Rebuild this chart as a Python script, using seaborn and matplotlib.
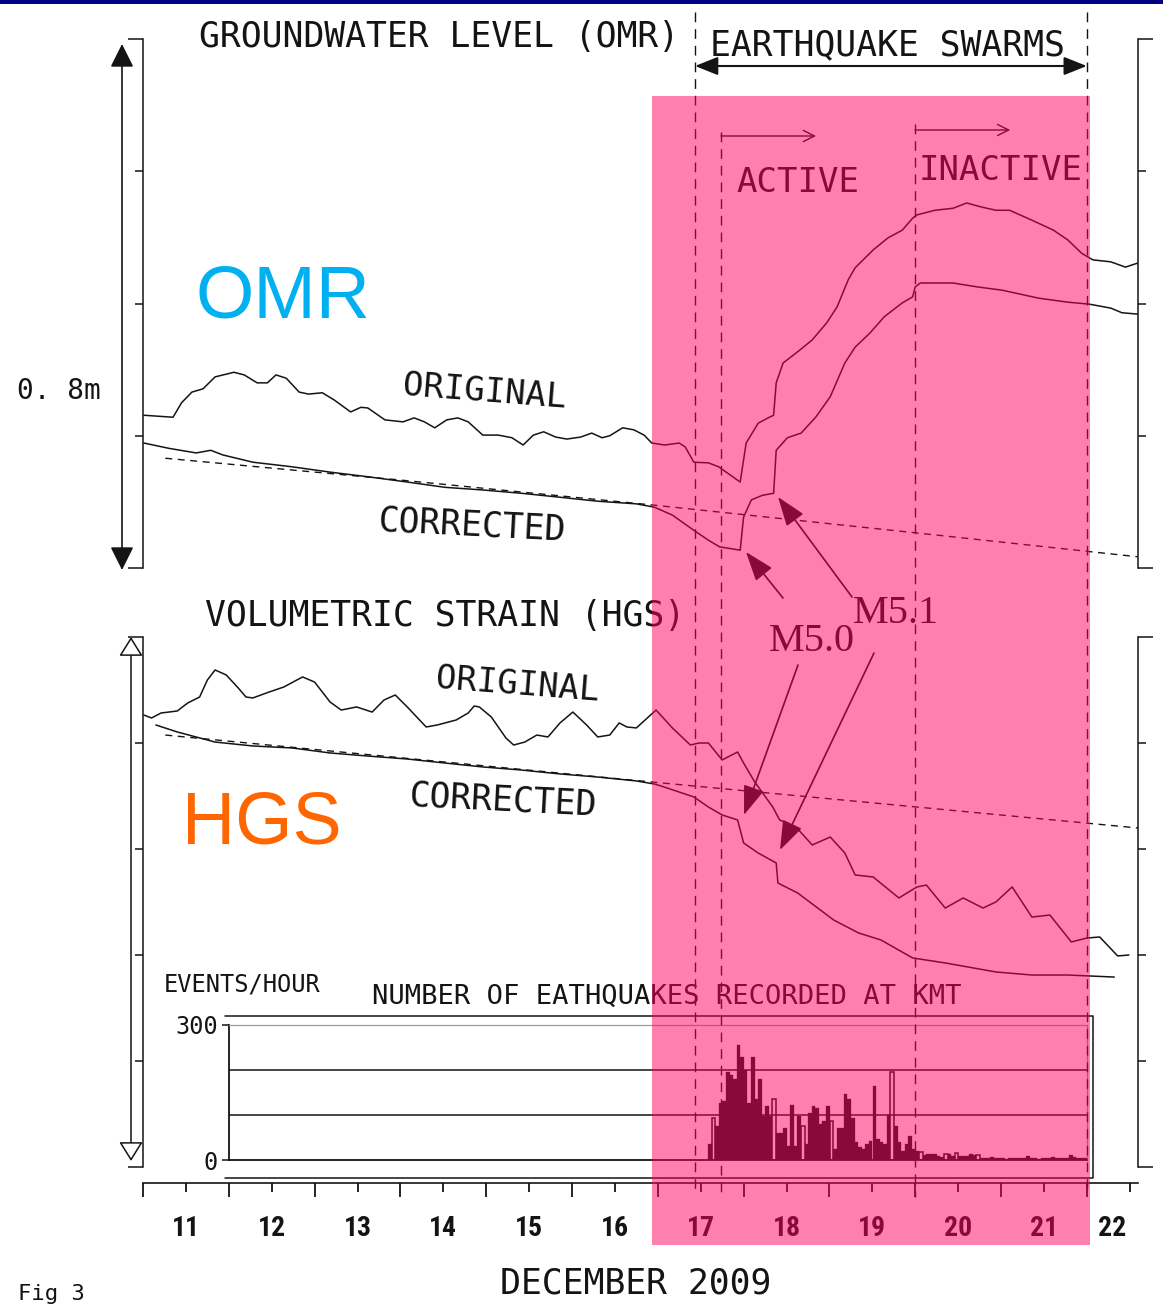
import numpy as np
import pandas as pd
import matplotlib
matplotlib.use("Agg")
import matplotlib.pyplot as plt
from matplotlib.patches import Rectangle
import seaborn as sns

# ---------------- data ----------------
# Groundwater level at OMR, metres (relative), time = day of December 2009
omr_orig_day = [11.01, 11.35, 11.45, 11.57, 11.70, 11.84, 12.06, 12.18, 12.33, 12.45,
                12.55, 12.67, 12.82, 12.93, 13.09, 13.23, 13.42, 13.54, 13.62, 13.82,
                14.03, 14.16, 14.28, 14.40, 14.54, 14.67, 14.79, 14.96, 15.14, 15.30,
                15.43, 15.55, 15.67, 15.81, 15.94, 16.10, 16.23, 16.35, 16.44, 16.59,
                16.72, 16.84, 16.93, 17.08, 17.25, 17.32, 17.42, 17.59, 17.71, 17.96,
                18.03, 18.17, 18.30, 18.35, 18.38, 18.46, 18.63, 18.80, 18.97, 19.09,
                19.22, 19.30, 19.51, 19.68, 19.85, 19.97, 20.02, 20.23, 20.44, 20.60,
                20.77, 20.94, 21.10, 21.36, 21.61, 21.78, 21.94, 22.07, 22.28, 22.45,
                22.59]
omr_orig_m = [0.231, 0.228, 0.250, 0.266, 0.271, 0.289, 0.296, 0.292, 0.280, 0.280,
              0.292, 0.287, 0.266, 0.263, 0.265, 0.254, 0.236, 0.243, 0.242, 0.224,
              0.221, 0.227, 0.221, 0.212, 0.224, 0.227, 0.221, 0.201, 0.201, 0.197,
              0.186, 0.201, 0.206, 0.198, 0.195, 0.198, 0.204, 0.197, 0.200, 0.212,
              0.209, 0.201, 0.189, 0.186, 0.189, 0.183, 0.160, 0.159, 0.153, 0.130,
              0.189, 0.219, 0.228, 0.231, 0.280, 0.310, 0.327, 0.345, 0.371, 0.395,
              0.436, 0.454, 0.481, 0.499, 0.511, 0.529, 0.534, 0.541, 0.544, 0.552,
              0.546, 0.541, 0.541, 0.526, 0.511, 0.496, 0.476, 0.466, 0.463, 0.455,
              0.461]
omr_corr_day = [11.01, 11.30, 11.62, 11.79, 11.93, 12.28, 12.74, 13.18, 13.62, 14.08,
                14.52, 14.96, 15.41, 15.86, 16.30, 16.75, 16.96, 17.17, 17.42, 17.59,
                17.72, 17.96, 18.00, 18.09, 18.22, 18.35, 18.38, 18.51, 18.67, 18.84,
                19.01, 19.18, 19.30, 19.47, 19.64, 19.85, 19.97, 20.00, 20.06, 20.44,
                20.73, 21.02, 21.44, 21.78, 22.03, 22.28, 22.41, 22.59]
omr_corr_m = [0.189, 0.181, 0.174, 0.178, 0.171, 0.160, 0.153, 0.145, 0.138, 0.130,
              0.122, 0.118, 0.113, 0.107, 0.101, 0.097, 0.092, 0.080, 0.057, 0.042,
              0.032, 0.027, 0.077, 0.103, 0.110, 0.113, 0.178, 0.197, 0.204, 0.228,
              0.259, 0.310, 0.334, 0.355, 0.380, 0.401, 0.410, 0.425, 0.431, 0.431,
              0.425, 0.420, 0.408, 0.402, 0.399, 0.393, 0.386, 0.384]
omr_trend_day = [11.26, 14.00, 16.96, 20.02, 22.59]
omr_trend_m = [0.166, 0.133, 0.095, 0.053, 0.017]

# Volumetric strain at HGS (relative units, one frame tick = 1)
hgs_orig_day = [11.01, 11.10, 11.21, 11.40, 11.52, 11.66, 11.75, 11.84, 11.97, 12.11,
                12.20, 12.28, 12.47, 12.64, 12.86, 13.00, 13.18, 13.31, 13.49, 13.67,
                13.81, 13.94, 14.08, 14.30, 14.43, 14.65, 14.79, 14.86, 14.92, 15.06,
                15.23, 15.32, 15.45, 15.59, 15.72, 15.86, 16.01, 16.17, 16.30, 16.44,
                16.55, 16.64, 16.75, 16.98, 17.17, 17.38, 17.48, 17.59, 17.75, 17.93,
                18.00, 18.13, 18.34, 18.42, 18.61, 18.80, 19.01, 19.18, 19.30, 19.51,
                19.81, 20.02, 20.13, 20.35, 20.56, 20.79, 20.94, 21.13, 21.36, 21.57,
                21.82, 22.00, 22.15, 22.36, 22.49]
hgs_orig_v = [4.264, 4.236, 4.283, 4.302, 4.377, 4.434, 4.594, 4.689, 4.642, 4.519,
              4.434, 4.425, 4.481, 4.528, 4.623, 4.575, 4.387, 4.311, 4.340, 4.292,
              4.406, 4.453, 4.340, 4.151, 4.170, 4.217, 4.283, 4.349, 4.340, 4.245,
              4.047, 3.981, 4.009, 4.075, 4.057, 4.189, 4.292, 4.170, 4.057, 4.075,
              4.189, 4.151, 4.142, 4.311, 4.142, 3.981, 4.000, 4.000, 3.840, 3.915,
              3.811, 3.632, 3.396, 3.274, 3.208, 3.038, 3.113, 2.962, 2.755, 2.736,
              2.538, 2.642, 2.660, 2.443, 2.538, 2.443, 2.500, 2.642, 2.358, 2.377,
              2.123, 2.160, 2.170, 1.991, 2.000]
hgs_corr_day = [11.15, 11.40, 11.84, 12.28, 12.74, 13.18, 13.62, 14.08, 14.52, 14.96,
                15.41, 15.86, 16.30, 16.75, 16.96, 17.04, 17.42, 17.59, 17.75, 17.93,
                18.00, 18.17, 18.38, 18.40, 18.63, 19.05, 19.34, 19.60, 19.97, 20.35,
                20.94, 21.36, 21.78, 22.32]
hgs_corr_v = [4.170, 4.104, 4.009, 3.972, 3.953, 3.906, 3.877, 3.849, 3.811, 3.774,
              3.745, 3.708, 3.679, 3.642, 3.613, 3.594, 3.491, 3.396, 3.321, 3.274,
              3.057, 2.962, 2.868, 2.679, 2.585, 2.330, 2.208, 2.142, 1.972, 1.925,
              1.840, 1.811, 1.811, 1.792]
hgs_trend_day = [11.26, 16.93, 20.02, 22.60]
hgs_trend_v = [4.075, 3.632, 3.396, 3.198]

# Number of earthquakes per hour at KMT, hourly from 17 Dec 14:00
hist_start_day = 17 + 14 / 24
quake_counts = [35, 94, 76, 127, 131, 195, 190, 180, 255, 229,
                201, 127, 229, 135, 179, 98, 120, 98, 135, 61,
                61, 72, 32, 123, 32, 98, 76, 35, 105, 120,
                116, 79, 87, 120, 87, 24, 72, 72, 146, 135,
                94, 39, 28, 24, 35, 43, 165, 46, 39, 35,
                101, 195, 76, 39, 21, 35, 54, 24, 21, 17,
                11, 13, 13, 13, 10, 6, 13, 13, 10, 15,
                10, 10, 10, 13, 11, 11, 5, 4, 5, 6,
                4, 5, 4, 3, 5, 4, 5, 4, 5, 10,
                4, 5, 3, 4, 5, 4, 6, 4, 5, 4,
                5, 12, 6, 4, 5, 4]
open_bins = [1, 18, 26, 34, 51, 59, 66, 69, 75]

day_labels = ['11', '12', '13', '14', '15', '16', '17', '18', '19', '20', '21', '22']
day_label_pos = [11.5, 12.5, 13.5, 14.5, 15.5, 16.5, 17.5, 18.5, 19.5, 20.5, 21.5, 22.3]
swarm_bounds = [17.434, 22.0]
phase_bounds = [17.737, 20.0]

# ---------------- style ----------------
sns.set_theme(style="white")
plt.rcParams['font.family'] = ['DejaVu Sans Mono', 'DejaVu Sans']
MONO = ['DejaVu Sans Mono', 'DejaVu Sans']
NARROWB = ['Roboto Condensed', 'DejaVu Sans']
SANS = ['Liberation Sans', 'Arial', 'DejaVu Sans']
SERIF = ['Liberation Serif', 'DejaVu Serif']
INK = '#141414'

W, H = 1163, 1305
fig = plt.figure(figsize=(W / 100, H / 100), dpi=100)
fig.patch.set_facecolor('white')

PX_PER_DAY = 85.8


def dx(px):
    return 11 + (px - 143) / PX_PER_DAY


def fy(py):
    return 1 - py / H


X_END = dx(1138)


def frame(ax, ymax, minors):
    ax.set_facecolor('none')
    ax.set_xlim(11, X_END)
    ax.set_ylim(0, ymax)
    for s in ['top', 'bottom']:
        ax.spines[s].set_visible(False)
    for s in ['left', 'right']:
        ax.spines[s].set_visible(True)
        ax.spines[s].set_color(INK)
        ax.spines[s].set_linewidth(1.1)
    ax.set_xticks([])
    ax.set_yticks([0, ymax])
    ax.set_yticks(minors, minor=True)
    ax.tick_params(axis='y', which='major', direction='out', length=10.8, width=1.1,
                   left=True, right=True, labelleft=False, labelright=False, color=INK)
    ax.tick_params(axis='y', which='minor', direction='out', length=5.8, width=1.1,
                   left=True, right=True, labelleft=False, labelright=False, color=INK)
    ax.set_xlabel('')
    ax.set_ylabel('')


# ---------------- OMR panel ----------------
ax_omr = fig.add_axes([143 / W, fy(568), 995 / W, 529 / H])
sns.lineplot(x=omr_orig_day, y=omr_orig_m, ax=ax_omr, color=INK, lw=1.1,
             estimator=None, sort=False, legend=False)
sns.lineplot(x=omr_corr_day, y=omr_corr_m, ax=ax_omr, color=INK, lw=1.1,
             estimator=None, sort=False, legend=False)
ax_omr.plot(omr_trend_day, omr_trend_m, color=INK, lw=1.0, ls=(0, (5, 4)))
frame(ax_omr, 0.8, [0.2, 0.4, 0.6])

# ---------------- HGS panel ----------------
ax_hgs = fig.add_axes([143 / W, fy(1167), 995 / W, 530 / H])
sns.lineplot(x=hgs_orig_day, y=hgs_orig_v, ax=ax_hgs, color=INK, lw=1.1,
             estimator=None, sort=False, legend=False)
sns.lineplot(x=hgs_corr_day, y=hgs_corr_v, ax=ax_hgs, color=INK, lw=1.1,
             estimator=None, sort=False, legend=False)
ax_hgs.plot(hgs_trend_day, hgs_trend_v, color=INK, lw=1.0, ls=(0, (5, 4)))
frame(ax_hgs, 5, [1, 2, 3, 4])

# ---------------- histogram ----------------
ax_hist = fig.add_axes([229 / W, fy(1160), 858 / W, 135 / H])
n_h = len(quake_counts)
hist_df = pd.DataFrame({
    't': hist_start_day + (np.arange(n_h) + 0.5) / 24,
    'n': np.array(quake_counts, dtype=float),
    'open': np.isin(np.arange(n_h), open_bins),
})
brange = (hist_start_day, hist_start_day + n_h / 24)
sns.histplot(data=hist_df[~hist_df['open']], x='t', weights='n', binwidth=1 / 24,
             binrange=brange, ax=ax_hist, color=INK, alpha=1, edgecolor=INK,
             linewidth=0.2)
sns.histplot(data=hist_df[hist_df['open']], x='t', weights='n', binwidth=1 / 24,
             binrange=brange, ax=ax_hist, fill=False, color=INK, linewidth=1.1)
ax_hist.set_facecolor('none')
ax_hist.set_xlim(12, 22)
ax_hist.set_ylim(0, 300)
for v in [100, 200]:
    ax_hist.axhline(v, color=INK, lw=1.1, zorder=0)
for s in ['left', 'bottom']:
    ax_hist.spines[s].set_visible(True)
    ax_hist.spines[s].set_color(INK)
    ax_hist.spines[s].set_linewidth(1.3)
for s in ['top', 'right']:
    ax_hist.spines[s].set_visible(True)
    ax_hist.spines[s].set_color('#9a9a9a')
    ax_hist.spines[s].set_linewidth(0.9)
ax_hist.set_xticks([])
ax_hist.set_yticks([0, 300])
ax_hist.set_yticklabels(['0', '300'], fontfamily=MONO, fontsize=17, color=INK)
ax_hist.tick_params(axis='y', left=True, direction='out', length=5, width=1.1, pad=3, color=INK)
ax_hist.set_xlabel('')
ax_hist.set_ylabel('')

# ---------------- time axis ----------------
ax_time = fig.add_axes([143 / W, fy(1183), 995 / W, 0.0001])
ax_time.set_facecolor('none')
ax_time.set_xlim(11, X_END)
for s in ['top', 'left', 'right']:
    ax_time.spines[s].set_visible(False)
ax_time.spines['bottom'].set_color(INK)
ax_time.spines['bottom'].set_linewidth(1.2)
ax_time.set_yticks([])
ax_time.set_xticks(np.arange(11, 23))
ax_time.set_xticks(np.arange(11.5, 23, 1.0), minor=True)
ax_time.tick_params(axis='x', which='major', bottom=True, direction='out', length=10,
                    width=1.3, labelbottom=False, color=INK)
ax_time.tick_params(axis='x', which='minor', bottom=True, direction='out', length=6.5,
                    width=1.3, labelbottom=False, color=INK)

# ---------------- overlay (annotations, shading) ----------------
ax = fig.add_axes([0, 0, 1, 1], zorder=10)
ax.set_xlim(dx(0), dx(W))
ax.set_ylim(H, 0)
ax.axis('off')
ax.patch.set_alpha(0)


def txt(x, y, s, size, family=MONO, **kw):
    kw.setdefault('ha', 'center')
    kw.setdefault('va', 'baseline')
    kw.setdefault('color', INK)
    ax.text(x, y, s, fontsize=size, family=family, **kw)


txt(dx(439), 47, 'GROUNDWATER LEVEL (OMR)', 25)
txt(dx(887), 55, 'EARTHQUAKE SWARMS', 25)
txt(dx(798), 192, 'ACTIVE', 24.5)
txt(dx(1001), 180, 'INACTIVE', 24.5)
txt(dx(283), 317, 'OMR', 54, family=SANS, color='#00B0F0')
txt(dx(59), 399, '0. 8m', 20)
txt(dx(484), 392, 'ORIGINAL', 24.5, va='center', rotation=-4.5, rotation_mode='anchor')
txt(dx(472), 525, 'CORRECTED', 25, va='center', rotation=-3, rotation_mode='anchor')
txt(dx(445), 626, 'VOLUMETRIC STRAIN (HGS)', 25)
txt(dx(896), 623, 'M5.1', 29, family=SERIF)
txt(dx(812), 651, 'M5.0', 29, family=SERIF)
txt(dx(517), 685, 'ORIGINAL', 24.5, va='center', rotation=-4.5, rotation_mode='anchor')
txt(dx(503), 800, 'CORRECTED', 25, va='center', rotation=-3, rotation_mode='anchor')
txt(dx(262), 844, 'HGS', 53, family=SANS, color='#FF6600')
txt(dx(242), 991, 'EVENTS/HOUR', 17)
txt(dx(667), 1004, 'NUMBER OF EATHQUAKES RECORDED AT KMT', 19.5)
for p, lab in zip(day_label_pos, day_labels):
    txt(p, 1236, lab, 20, family=NARROWB, weight='bold')
txt(dx(636), 1294, 'DECEMBER 2009', 25)
txt(dx(18), 1304, 'Fig 3', 16, ha='left', va='bottom')

# vertical dashed lines (swarm period and its phases)
for xv in swarm_bounds:
    ax.plot([xv, xv], [12, 1195], color=INK, lw=1.0, ls=(0, (7, 5)))
ax.plot([phase_bounds[0]] * 2, [132, 1192], color=INK, lw=1.0, ls=(0, (7, 5)))
ax.plot([phase_bounds[1]] * 2, [124, 1197], color=INK, lw=1.0, ls=(0, (7, 5)))

# outer frame of the histogram box
ax.plot([dx(225), dx(1093), dx(1093), dx(225)], [1016, 1016, 1178, 1178], color=INK, lw=1.1)

arrow_kw = dict(annotation_clip=False)
# swarm period double arrow
ax.annotate('', xy=(swarm_bounds[1], 66), xytext=(swarm_bounds[0], 66),
            arrowprops=dict(arrowstyle='<|-|>,head_length=0.5,head_width=0.2', mutation_scale=28,
                            color=INK, lw=1.5, shrinkA=0, shrinkB=0), **arrow_kw)
# ACTIVE / INACTIVE arrows
for x0, y0 in [(phase_bounds[0], 136), (phase_bounds[1], 130)]:
    ax.annotate('', xy=(x0 + 95 / PX_PER_DAY, y0), xytext=(x0, y0),
                arrowprops=dict(arrowstyle='->,head_length=0.5,head_width=0.25', mutation_scale=16,
                                color=INK, lw=1.0, shrinkA=0, shrinkB=0), **arrow_kw)
# left scale arrows
ax.annotate('', xy=(dx(122), 44), xytext=(dx(122), 570),
            arrowprops=dict(arrowstyle='<|-|>,head_length=0.4,head_width=0.2', mutation_scale=36,
                            color=INK, lw=1.2, shrinkA=0, shrinkB=0), **arrow_kw)
ax.annotate('', xy=(dx(131), 637), xytext=(dx(131), 1161),
            arrowprops=dict(arrowstyle='<|-|>,head_length=0.4,head_width=0.25', mutation_scale=30,
                            edgecolor=INK, facecolor='white', lw=1.1, shrinkA=0, shrinkB=0), **arrow_kw)
# M5.0 / M5.1 pointers
m_arrows = [((852, 597), (778, 497)), ((783, 598), (746, 552)),
            ((798, 665), (744, 815)), ((874, 653), (780, 850))]
for (x0, y0), (x1, y1) in m_arrows:
    ax.annotate('', xy=(dx(x1), y1), xytext=(dx(x0), y0),
                arrowprops=dict(arrowstyle='-|>,head_length=0.7,head_width=0.25', mutation_scale=26,
                                color=INK, lw=1.2, shrinkA=0, shrinkB=0), **arrow_kw)

# pink shading over the swarm period (drawn on top, translucent)
ax.add_patch(Rectangle((dx(652), 96), dx(1090) - dx(652), 1149,
                       facecolor=(1.0, 0.0, 0.38), alpha=0.5, edgecolor='none', zorder=50))
# dark blue bar at top
ax.add_patch(Rectangle((dx(0), 0), dx(W) - dx(0), 3.5, facecolor='#000080',
                       edgecolor='none', zorder=60))

fig.savefig('out.png', dpi=100, facecolor='white')
